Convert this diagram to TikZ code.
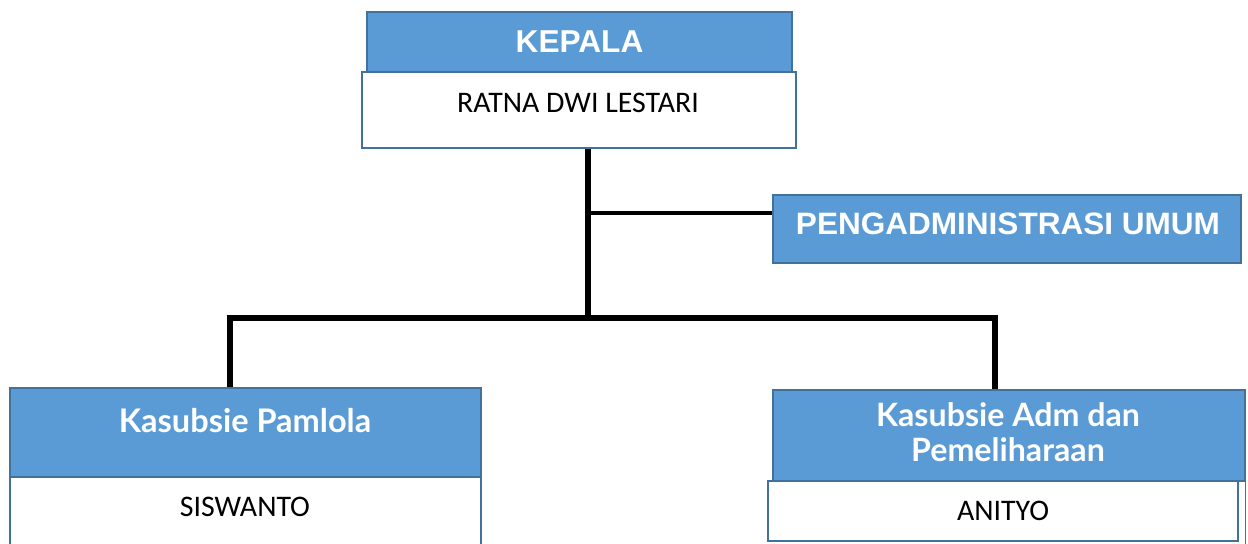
\documentclass[tikz,border=0pt]{standalone}
\usepackage{fontspec}
\setmainfont{Carlito}
\newfontfamily\headfont{Liberation Sans}
\newfontfamily\subfont{Lato}
\usetikzlibrary{positioning}
\definecolor{headblue}{HTML}{5B9BD5}
\definecolor{edgeblue}{HTML}{41719C}
\tikzset{
% box and line styles
headbox/.style={rectangle, draw=edgeblue, line width=0.8pt, fill=headblue,
  text=white, inner sep=0},
namebox/.style={rectangle, draw=edgeblue, line width=1pt, fill=white, inner sep=0},
link/.style={line width=3.4pt, draw=black},
}

\begin{document}
\begin{tikzpicture}[x=0.02cm, y=-0.02cm]
  \useasboundingbox (0,0) rectangle (1248,544);
  \clip (0,0) rectangle (1248,544);

  % top
  \node[headbox, minimum width=8.5cm, minimum height=1.2cm,
    font=\headfont\bfseries\fontsize{18}{20}\selectfont] (kepala) at (579.5,42) {KEPALA};
  \node[namebox, minimum width=8.68cm, minimum height=1.52cm] (ratnabox) at (579,110) {};
  \node[font=\fontsize{17}{19}\selectfont] (ratna) at (578,103) {RATNA DWI LESTARI};

  % staff
  \node[headbox, minimum width=9.36cm, minimum height=1.36cm] (umum) at (1007,229) {};
  \node[text=white, font=\headfont\bfseries\fontsize{17.6}{20}\selectfont] (umumtext)
    at (1008,224) {\scalebox{1.02}[1]{PENGADMINISTRASI UMUM}};

  % left
  \node[headbox, minimum width=9.42cm, minimum height=1.78cm] (pamlola) at (245.5,432.5) {};
  \node[text=white, font=\subfont\bfseries\fontsize{18.5}{20}\selectfont] (pamlolatext)
    at (245,421) {Kasubsie Pamlola};
  \node[namebox, minimum width=9.42cm, minimum height=1.58cm] (siswantobox) at (245.5,516.5) {};
  \node[font=\fontsize{17}{19}\selectfont] (siswanto) at (245,507) {SISWANTO};

  % right
  \node[headbox, minimum width=9.44cm, minimum height=1.82cm] (adm) at (1009,435.5) {};
  \draw[edgeblue, line width=0.8pt] (adm.south east) -- ++(0,70);
  \node[text=white, align=center, font=\subfont\bfseries\fontsize{18.3}{19.8}\selectfont] (admtext)
    at (1008,432) {Kasubsie Adm dan\\Pemeliharaan};
  \node[namebox, minimum width=9.4cm, minimum height=1.2cm,
    font=\fontsize{17}{19}\selectfont] (anityo) at (1003,511) {ANITYO};

  % lines
  \coordinate (trunk) at (588,318);
  \coordinate (tee) at (588,213);
  \coordinate (busl) at (230,318);
  \coordinate (busr) at (995,318);
  \draw[link] (ratnabox.south -| trunk) -- (trunk);
  \draw[link, line width=2.3pt] (tee) -- (tee -| umum.west);
  \draw[link] (busl |- pamlola.north) -- (busl) -- (busr) -- (busr |- adm.north);
\end{tikzpicture}
\end{document}
